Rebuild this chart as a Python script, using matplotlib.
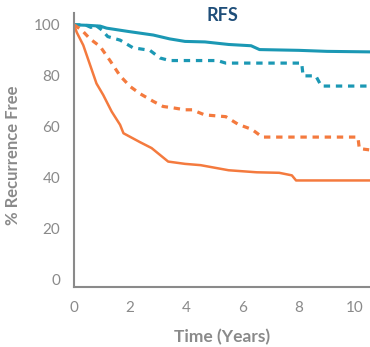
import matplotlib.pyplot as plt

# teal solid
teal_solid_x = [0, 0.5, 0.93, 1.16, 1.93, 2.82, 3.4, 3.95, 4.66, 5.5, 6.3, 6.6, 8.0, 9.0, 10.5]
teal_solid_y = [100, 99.8, 99.5, 98.7, 97.4, 96, 94.5, 93.5, 93.3, 92.3, 91.8, 90.3, 90, 89.6, 89.4]

# teal dashed
teal_dash_x = [0, 0.4, 0.6, 0.75, 0.99, 1.2, 1.64, 2.1, 2.7, 3.06, 3.4, 5.1, 5.4, 8.1, 8.15, 8.6, 8.8, 10.5]
teal_dash_y = [100, 100, 99, 100, 98, 95.4, 94, 91, 90, 87, 86, 86, 85, 85, 80, 80, 76, 76]

# orange solid
orange_solid_x = [0, 0.1, 0.33, 0.8, 1.04, 1.34, 1.64, 1.76, 2.35, 2.76, 3.35, 3.95, 4.5, 5.5, 6.5,
                  7.3, 7.75, 7.9, 10.5]
orange_solid_y = [100, 97, 92, 77, 72.5, 66, 60.8, 57.5, 54, 51.7, 46.4, 45.5, 45, 43, 42.2,
                  42, 41, 39, 39]

# orange dashed
orange_dash_x = [0, 0.27, 0.57, 0.93, 1.28, 1.64, 2.0, 2.35, 2.82, 3.17, 3.5, 3.95, 4.2, 4.65, 5.4,
                 5.84, 6.33, 6.7, 10.1, 10.15, 10.5]
orange_dash_y = [100, 98, 94.5, 91.5, 86, 80, 75.8, 73, 70, 68, 67.5, 66.7, 66.7, 64.7, 64,
                 61, 59, 56, 56, 51.5, 51]

teal = '#1b98b4'
orange = '#f47a3e'
gray = '#8a8a8a'

plt.rcParams['font.family'] = ['Lato', 'DejaVu Sans']

fig = plt.figure(figsize=(3.7, 3.47), dpi=100)
ax = fig.add_axes([0.2, 0.173, 0.8, 0.79])

ax.plot(teal_solid_x, teal_solid_y, color=teal, lw=2.2)
ax.plot(teal_dash_x, teal_dash_y, color=teal, lw=2.3, dashes=(2.0, 1.8))
ax.plot(orange_solid_x, orange_solid_y, color=orange, lw=1.8)
ax.plot(orange_dash_x, orange_dash_y, color=orange, lw=2.3, dashes=(2.0, 1.8))

ax.set_xlim(0, 10.53)
ax.set_ylim(-2.75, 104.7)
ax.set_xticks([0, 2, 4, 6, 8, 10])
ax.set_yticks([0, 20, 40, 60, 80, 100])

for s in ['top', 'right']:
    ax.spines[s].set_visible(False)
for s in ['left', 'bottom']:
    ax.spines[s].set_color(gray)
    ax.spines[s].set_linewidth(1.5)

ax.tick_params(length=0, labelsize=11, labelcolor=gray, pad=10)
ax.set_xlabel('Time (Years)', fontsize=12.5, fontweight='bold', color=gray, labelpad=10)
ax.set_ylabel('% Recurrence Free', fontsize=12, fontweight='bold', color=gray)
ax.yaxis.set_label_coords(-0.18, 0.48)

ax.text(5.27, 103.5, 'RFS', fontsize=13, fontweight='bold', color='#1f4e79',
        ha='center', va='center')

fig.savefig('out.png', dpi=100)
